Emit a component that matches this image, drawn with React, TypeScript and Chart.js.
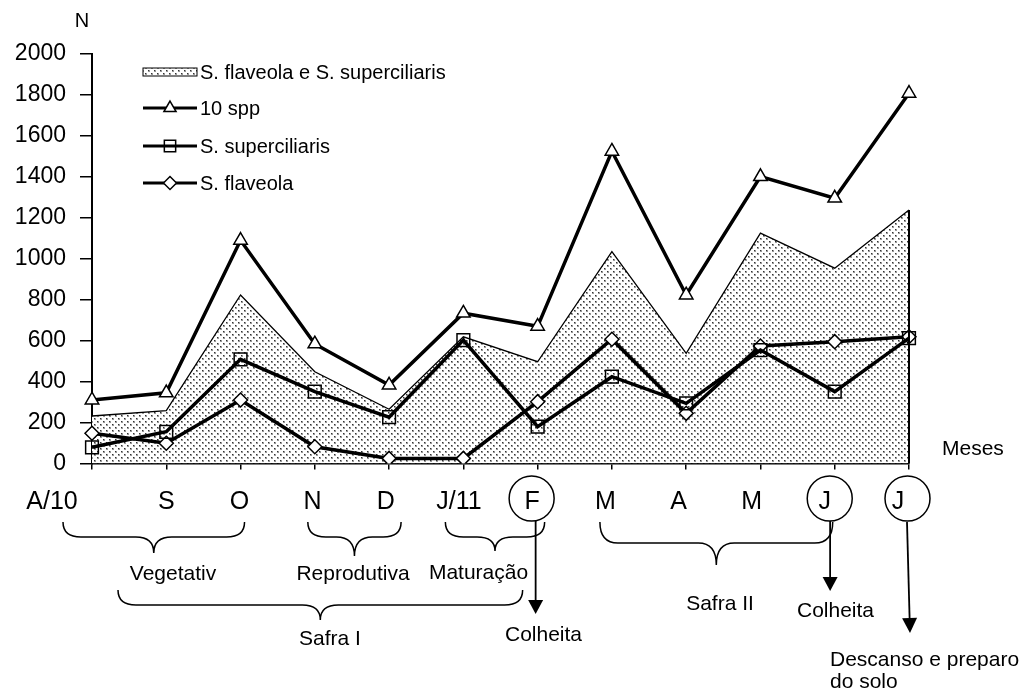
import React, { useEffect, useRef } from 'react';
import { Chart, registerables } from 'chart.js';
import { drawPoint } from 'chart.js/helpers';

Chart.register(...registerables);

const FONT = '"Liberation Sans", Arial, Helvetica, sans-serif';

// Categories (months)
const MONTHS = ['A/10', 'S', 'O', 'N', 'D', 'J/11', 'F', 'M', 'A', 'M', 'J', 'J'];

// Series values (N)
const TOTAL_10SPP = [310, 345, 1090, 584, 383, 734, 670, 1525, 823, 1401, 1296, 1808];
const BOTH_SPECIES = [232, 258, 823, 448, 265, 619, 497, 1035, 538, 1125, 954, 1238];
const S_SUPERCILIARIS = [79, 155, 509, 351, 226, 603, 180, 424, 294, 554, 351, 612];
const S_FLAVEOLA = [148, 99, 310, 82, 25, 25, 302, 607, 245, 574, 595, 619];

// Y axis
const Y_MIN = 0;
const Y_MAX = 2000;
const Y_STEP = 200;

// Circled months (harvest / rest)
const CIRCLED = [6, 10, 11];

const LEGEND_LABELS = ['S. flaveola e S. superciliaris', '10 spp', 'S. superciliaris', 'S. flaveola'];

function makePattern(): CanvasPattern | string {
  const tile = document.createElement('canvas');
  tile.width = 6;
  tile.height = 6;
  const t = tile.getContext('2d');
  if (!t) return '#ddd';
  t.fillStyle = '#ffffff';
  t.fillRect(0, 0, 6, 6);
  t.fillStyle = '#999';
  t.fillRect(1, 1, 2, 2);
  t.fillRect(4, 4, 2, 2);
  t.fillStyle = '#333';
  t.fillRect(1, 1, 1, 1);
  t.fillRect(4, 4, 1, 1);
  const c = document.createElement('canvas').getContext('2d');
  return (c && c.createPattern(tile, 'repeat')) || '#ddd';
}

function text(ctx: CanvasRenderingContext2D, s: string, x: number, capCenter: number, size: number, align: CanvasTextAlign) {
  ctx.font = `${size}px ${FONT}`;
  ctx.textAlign = align;
  ctx.textBaseline = 'alphabetic';
  ctx.fillText(s, x, capCenter + 0.358 * size);
}

function brace(ctx: CanvasRenderingContext2D, x1: number, x2: number, top: number, mid: number, tip: number) {
  const cx = (x1 + x2) / 2;
  const r = Math.min(18, (x2 - x1) / 4);
  ctx.beginPath();
  ctx.moveTo(x1, top);
  ctx.quadraticCurveTo(x1, mid, x1 + r, mid);
  ctx.lineTo(cx - r, mid);
  ctx.quadraticCurveTo(cx, mid, cx, tip);
  ctx.quadraticCurveTo(cx, mid, cx + r, mid);
  ctx.lineTo(x2 - r, mid);
  ctx.quadraticCurveTo(x2, mid, x2, top);
  ctx.stroke();
}

function arrow(ctx: CanvasRenderingContext2D, x1: number, y1: number, x2: number, y2: number, head: number, half: number) {
  const ang = Math.atan2(y2 - y1, x2 - x1);
  const bx = x2 - Math.cos(ang) * head;
  const by = y2 - Math.sin(ang) * head;
  ctx.beginPath();
  ctx.moveTo(x1, y1);
  ctx.lineTo(bx, by);
  ctx.stroke();
  ctx.beginPath();
  ctx.moveTo(x2, y2);
  ctx.lineTo(bx + Math.sin(ang) * half, by - Math.cos(ang) * half);
  ctx.lineTo(bx - Math.sin(ang) * half, by + Math.cos(ang) * half);
  ctx.closePath();
  ctx.fill();
}

export default function App() {
  const ref = useRef<HTMLCanvasElement | null>(null);

  useEffect(() => {
    if (!ref.current) return;
    const pattern = makePattern();

    const annotations = {
      id: 'annotations',
      afterDatasetsDraw(chart: any) {
        const ctx: CanvasRenderingContext2D = chart.ctx;
        const x = chart.scales.x;
        const y = chart.scales.y;
        const last = BOTH_SPECIES.length - 1;
        ctx.save();
        ctx.strokeStyle = '#000';
        ctx.lineWidth = 2;
        ctx.beginPath();
        ctx.moveTo(x.getPixelForValue(last), y.getPixelForValue(BOTH_SPECIES[last]));
        ctx.lineTo(x.getPixelForValue(last), y.getPixelForValue(0));
        ctx.stroke();
        ctx.restore();
      },
      afterDraw(chart: any) {
        const ctx: CanvasRenderingContext2D = chart.ctx;
        const x = chart.scales.x;
        const px = (i: number) => x.getPixelForValue(i);
        ctx.save();
        ctx.fillStyle = '#000';
        ctx.strokeStyle = '#000';

        // Axis titles
        text(ctx, 'N', 82, 19.5, 20, 'center');
        text(ctx, 'Meses', 942, 447, 21, 'left');

        // Month labels
        MONTHS.forEach((m, i) => {
          const lx = i === 0 ? px(0) - 40 : px(i) - (i - 1) * 1.1;
          text(ctx, m, lx, 500, 25, 'center');
        });

        // Circles
        ctx.lineWidth = 1.5;
        const circleDx = [-6, -5, -1.5];
        CIRCLED.forEach((idx, k) => {
          ctx.beginPath();
          ctx.arc(px(idx) + circleDx[k], 498.5, 22.5, 0, Math.PI * 2);
          ctx.stroke();
        });

        // Braces
        ctx.lineWidth = 1.5;
        brace(ctx, px(0) - 29, px(2) + 4, 522, 537, 553);
        brace(ctx, px(3) - 7, px(4) + 12, 522, 537, 556);
        brace(ctx, px(5) - 18, px(6) + 7, 522, 537, 551);
        brace(ctx, px(0) + 26, px(6) - 15, 590, 605, 620);
        brace(ctx, px(7) - 12, px(10) - 2, 522, 543, 565);

        // Phase labels
        text(ctx, 'Vegetativ', 173, 572, 21, 'center');
        text(ctx, 'Reprodutiva', 353, 572, 21, 'center');
        text(ctx, 'Maturação', 478.5, 571, 21, 'center');
        text(ctx, 'Safra I', 330, 637, 21, 'center');
        text(ctx, 'Safra II', 720, 602, 21, 'center');

        // Arrows
        ctx.lineWidth = 1.8;
        arrow(ctx, px(6) - 2, 521, px(6) - 2, 614, 14, 7.5);
        arrow(ctx, px(10) - 4.6, 521, px(10) - 4.6, 591, 14, 7.5);
        arrow(ctx, px(11) - 2, 522, px(11) + 1, 633, 15, 7.5);

        text(ctx, 'Colheita', 505, 633, 21, 'left');
        text(ctx, 'Colheita', 797, 609, 21, 'left');
        text(ctx, 'Descanso e preparo', 830, 658, 21, 'left');
        text(ctx, 'do solo', 830, 680, 21, 'left');

        // Legend
        const rows = [72, 108, 146, 183];
        const lx1 = 143;
        const lx2 = 197;
        ctx.fillStyle = pattern as any;
        ctx.fillRect(lx1, rows[0] - 4, lx2 - lx1, 8);
        ctx.lineWidth = 1;
        ctx.strokeRect(lx1, rows[0] - 4, lx2 - lx1, 8);
        const styles = [
          { pointStyle: 'triangle', radius: 7, fill: '#fff' },
          { pointStyle: 'rect', radius: 8, fill: 'rgba(0,0,0,0)' },
          { pointStyle: 'rectRot', radius: 6.5, fill: '#fff' },
        ];
        styles.forEach((s, k) => {
          const ry = rows[k + 1];
          ctx.lineWidth = 3.2;
          ctx.beginPath();
          ctx.moveTo(lx1, ry);
          ctx.lineTo(lx2, ry);
          ctx.stroke();
          ctx.fillStyle = s.fill;
          ctx.lineWidth = 1.5;
          drawPoint(ctx, { pointStyle: s.pointStyle as any, radius: s.radius, rotation: 0, borderWidth: 1.5 } as any, (lx1 + lx2) / 2, ry);
        });
        ctx.fillStyle = '#000';
        LEGEND_LABELS.forEach((l, k) => text(ctx, l, 200, rows[k], 20, 'left'));

        ctx.restore();
      },
    };

    const chart = new Chart(ref.current, {
      type: 'line',
      data: {
        labels: MONTHS,
        datasets: [
          {
            label: LEGEND_LABELS[0],
            data: BOTH_SPECIES,
            fill: 'origin',
            backgroundColor: pattern as any,
            borderColor: '#000',
            borderWidth: 1.3,
            pointRadius: 0,
            tension: 0,
            order: 4,
          },
          {
            label: LEGEND_LABELS[1],
            data: TOTAL_10SPP,
            fill: false,
            borderColor: '#000',
            borderWidth: 3.5,
            pointStyle: 'triangle',
            pointRadius: 7.8,
            pointBackgroundColor: '#fff',
            pointBorderColor: '#000',
            pointBorderWidth: 1.5,
            tension: 0,
            order: 1,
          },
          {
            label: LEGEND_LABELS[2],
            data: S_SUPERCILIARIS,
            fill: false,
            borderColor: '#000',
            borderWidth: 3.5,
            pointStyle: 'rect',
            pointRadius: 9,
            pointBackgroundColor: 'rgba(0,0,0,0)',
            pointBorderColor: '#000',
            pointBorderWidth: 1.5,
            tension: 0,
            order: 2,
          },
          {
            label: LEGEND_LABELS[3],
            data: S_FLAVEOLA,
            fill: false,
            borderColor: '#000',
            borderWidth: 3.5,
            pointStyle: 'rectRot',
            pointRadius: 7,
            pointBackgroundColor: '#fff',
            pointBorderColor: '#000',
            pointBorderWidth: 1.5,
            tension: 0,
            order: 3,
          },
        ],
      },
      options: {
        responsive: false,
        maintainAspectRatio: false,
        animation: false,
        events: [],
        layout: { padding: { top: 54, right: 127, left: 0, bottom: 0 } },
        plugins: {
          legend: { display: false },
          tooltip: { enabled: false },
        },
        scales: {
          x: {
            type: 'category',
            offset: false,
            grid: { display: true, drawOnChartArea: false, drawTicks: true, tickLength: 6, color: '#000', lineWidth: 1.5 },
            border: { display: true, color: '#000', width: 2.5 },
            ticks: { autoSkip: false, maxRotation: 0, padding: 0, callback: () => '' },
            afterFit: (s: any) => {
              s.height = 693 - 463.5;
            },
          },
          y: {
            min: Y_MIN,
            max: Y_MAX,
            ticks: {
              stepSize: Y_STEP,
              color: '#000',
              padding: 14,
              font: { size: 23, family: FONT },
              callback: (v: any) => String(v),
            },
            grid: { display: true, drawOnChartArea: false, drawTicks: true, tickLength: 12, color: '#000', lineWidth: 1.5 },
            border: { display: true, color: '#000', width: 2 },
            afterFit: (s: any) => {
              s.width = 92;
            },
          },
        },
      },
      plugins: [annotations],
    });

    return () => chart.destroy();
  }, []);

  return (
    <div style={{ position: 'fixed', left: 0, top: 0, width: 1036, height: 693, background: '#fff' }}>
      <canvas ref={ref} width={1036} height={693} style={{ display: 'block' }} />
    </div>
  );
}
